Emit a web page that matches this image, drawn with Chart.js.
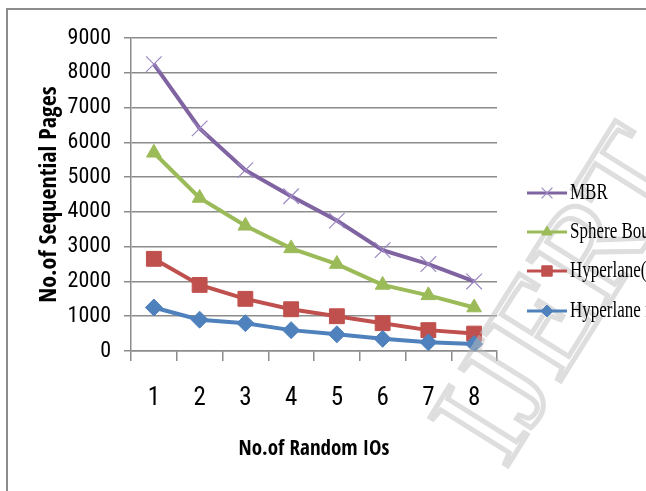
<!DOCTYPE html>
<html>
<head>
<meta charset="utf-8">
<script src="https://cdn.jsdelivr.net/npm/chart.js@4/dist/chart.umd.min.js"></script>
<style>
html,body{margin:0;padding:0;background:#fff;overflow:hidden;}
canvas{display:block;}
</style>
</head>
<body>
<canvas id="c" width="646" height="491"></canvas>
<script>
const categories = ['1','2','3','4','5','6','7','8'];
const seriesNames = ['MBR','Sphere Bound','Hyperlane(max)','Hyperlane first'];
const mbr = [8250, 6400, 5200, 4450, 3750, 2900, 2500, 2000];
const sphere = [5700, 4400, 3600, 2950, 2500, 1900, 1600, 1250];
const hyperA = [2650, 1900, 1500, 1200, 1000, 800, 600, 500];
const hyperB = [1250, 900, 800, 600, 480, 350, 250, 200];
const yTicks = [0,1000,2000,3000,4000,5000,6000,7000,8000,9000];
const xTitle = 'No.of Random IOs';
const yTitle = 'No.of Sequential Pages';
const watermark = 'IJERT';

const TICKFONT = "'Roboto Condensed', 'DejaVu Sans Condensed', sans-serif";
const TITLEFONT = "'Open Sans Condensed', 'Roboto Condensed', sans-serif";
const SERIF = "'Liberation Serif', 'DejaVu Serif', serif";

const styles = [
  {color:'#8064A2', point:'crossRot', pcolor:'#9d89c4', radius:11, pbw:1.2, fill:'#9d89c4'},
  {color:'#9BBB59', point:'triangle', pcolor:'#9BBB59', radius:8.5, pbw:1, fill:'#9BBB59'},
  {color:'#C0504D', point:'rect', pcolor:'#C0504D', radius:10.5, pbw:1, fill:'#C0504D'},
  {color:'#4F81BD', point:'rectRot', pcolor:'#4F81BD', radius:8.5, pbw:1, fill:'#4F81BD'}
];
const values = [mbr, sphere, hyperA, hyperB];

const frameAndLegend = {
  id:'frameAndLegend',
  afterDraw(chart){
    const ctx = chart.ctx;
    ctx.save();
    // watermark
    ctx.save();
    ctx.translate(505, 470);
    ctx.rotate(-58*Math.PI/180);
    ctx.font = "140px " + SERIF;
    ctx.lineWidth = 5;
    ctx.strokeStyle = 'rgba(190,190,190,0.5)';
    ctx.textBaseline = 'alphabetic';
    ctx.strokeText(watermark, 0, 0);
    ctx.restore();
    // frame
    ctx.strokeStyle = '#8c8c8c';
    ctx.lineWidth = 2;
    ctx.beginPath();
    ctx.moveTo(7, 491);
    ctx.lineTo(7, 9);
    ctx.lineTo(646, 9);
    ctx.stroke();
    // legend
    const rows = [193, 232, 271, 311];
    for (let i = 0; i < seriesNames.length; i++) {
      const s = styles[i];
      const y = rows[i];
      ctx.strokeStyle = s.color;
      ctx.lineWidth = 3;
      ctx.beginPath();
      ctx.moveTo(527, y);
      ctx.lineTo(567, y);
      ctx.stroke();
      ctx.fillStyle = s.fill;
      ctx.strokeStyle = s.pcolor;
      ctx.lineWidth = s.pbw;
      Chart.helpers.drawPoint(ctx, {pointStyle: s.point, radius: s.radius*0.7, rotation: 0, borderWidth: s.pbw}, 547, y);
      ctx.save();
      ctx.translate(570, y);
      ctx.scale(1, 1.3);
      ctx.fillStyle = '#000';
      ctx.font = "17px " + SERIF;
      ctx.textBaseline = 'middle';
      ctx.textAlign = 'left';
      ctx.fillText(seriesNames[i], 0, 0);
      ctx.restore();
    }
    ctx.restore();
  }
};

new Chart(document.getElementById('c'), {
  type: 'line',
  data: {
    labels: categories,
    datasets: values.map((v, i) => ({
      label: seriesNames[i],
      data: v,
      borderColor: styles[i].color,
      backgroundColor: styles[i].fill,
      borderWidth: 4,
      pointStyle: styles[i].point,
      pointRadius: styles[i].radius,
      pointHoverRadius: styles[i].radius,
      pointBorderColor: styles[i].pcolor,
      pointBackgroundColor: styles[i].fill,
      pointBorderWidth: styles[i].pbw,
      tension: 0,
      fill: false
    })).reverse()
  },
  options: {
    responsive: false,
    devicePixelRatio: 1,
    animation: false,
    events: [],
    layout: {padding: {left: 0, right: 149, top: 38, bottom: 0}},
    plugins: {legend: {display: false}, tooltip: {enabled: false}},
    scales: {
      x: {
        offset: true,
        grid: {offset: true, drawOnChartArea: false, drawTicks: true, tickLength: 10, color: '#8c8c8c', lineWidth: 1.5},
        border: {display: true, color: '#8c8c8c', width: 1.5},
        ticks: {font: {family: TICKFONT, size: 25}, color: '#000', padding: 23, maxRotation: 0},
        title: {display: true, text: xTitle, font: {family: TITLEFONT, size: 21, weight: 'bold'}, color: '#000', padding: {top: 0, bottom: 29}},
        afterFit(scale){ scale.height = 140; }
      },
      y: {
        min: 0, max: 9000,
        afterBuildTicks(scale){ scale.ticks = yTicks.map(v => ({value: v})); },
        grid: {drawTicks: true, tickLength: 7, color: '#8c8c8c', lineWidth: 1.5},
        border: {display: true, color: '#8c8c8c', width: 1.5},
        ticks: {font: {family: TICKFONT, size: 22}, color: '#000', padding: 13, callback: v => String(v)},
        title: {display: true, text: yTitle, font: {family: TITLEFONT, size: 24, weight: 'bold'}, color: '#000', padding: {top: 35, bottom: 0}},
        afterFit(scale){ scale.width = 131; }
      }
    }
  },
  plugins: [frameAndLegend]
});
</script>
</body>
</html>
